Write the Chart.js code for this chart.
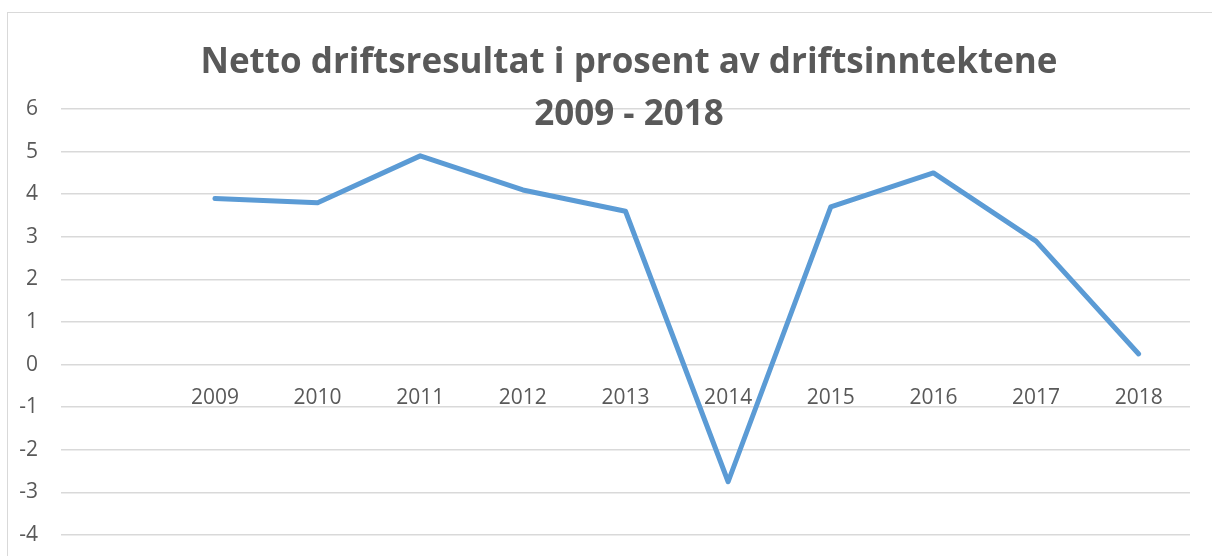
<!DOCTYPE html>
<html>
<head>
<meta charset="utf-8">
<script src="https://cdn.jsdelivr.net/npm/chart.js@4.4.1/dist/chart.umd.min.js"></script>
<style>
  body { margin: 0; background: #fff; }
  #wrap { position: relative; width: 1212px; height: 556px; overflow: hidden; }
</style>
</head>
<body>
<div id="wrap"><canvas id="myChart" width="1212" height="556"></canvas></div>
<script>
  const titleLines = ["Netto driftsresultat i prosent av driftsinntektene", "2009 - 2018"]
  const years = ["2009", "2010", "2011", "2012", "2013", "2014", "2015", "2016", "2017", "2018"]
  const values = [3.9, 3.8, 4.9, 4.1, 3.6, -2.75, 3.7, 4.5, 2.9, 0.25]
  const yTicks = [6, 5, 4, 3, 2, 1, 0, -1, -2, -3, -4]

  // Excel leaves one empty category before 2009
  const labels = [""].concat(years)
  const data = [null].concat(values)

  const textColor = "#595959"
  const gridColor = "#d9d9d9"
  const font = "'Open Sans', 'Liberation Sans', sans-serif"

  const frameAndTitle = {
    id: "frameAndTitle",
    beforeDraw(chart) {
      const ctx = chart.ctx
      ctx.save()
      ctx.strokeStyle = gridColor
      ctx.lineWidth = 1
      ctx.strokeRect(7.5, 12.5, 1230, 600)
      ctx.restore()
    },
    afterDraw(chart) {
      const ctx = chart.ctx
      ctx.save()
      ctx.fillStyle = textColor
      ctx.font = "bold 35px " + font
      ctx.textAlign = "center"
      ctx.textBaseline = "alphabetic"
      ctx.fillText(titleLines[0], 629, 73)
      ctx.fillText(titleLines[1], 629, 125)
      ctx.restore()
    }
  }

  function drawChart() {
    const ctx = document.getElementById("myChart")
    new Chart(ctx, {
      type: "line",
      data: {
        labels: labels,
        datasets: [
          {
            label: titleLines[0],
            data: data,
            borderColor: "#5b9bd5",
            backgroundColor: "#5b9bd5",
            borderWidth: 5,
            borderCapStyle: "round",
            borderJoinStyle: "round",
            pointRadius: 0,
            tension: 0,
          },
        ],
      },
      options: {
        responsive: false,
        animation: false,
        layout: { padding: { left: 0, right: 22, top: 109, bottom: 21 } },
        plugins: {
          legend: { display: false },
          title: { display: false },
          tooltip: { enabled: false },
        },
        scales: {
          x: {
            type: "category",
            position: { y: 0 },
            offset: true,
            afterFit: function (scale) { scale.height = 0 },
            grid: { display: false },
            border: { display: false },
            ticks: {
              color: textColor,
              font: { family: font, size: 21 },
              padding: 13,
              maxRotation: 0,
              autoSkip: false,
            },
          },
          y: {
            min: yTicks[yTicks.length - 1],
            max: yTicks[0],
            afterFit: function (scale) {
              scale.width = 61
              scale.paddingTop = 13
              scale.paddingBottom = 13
            },
            afterBuildTicks: function (scale) {
              scale.ticks = yTicks.map(function (v) { return { value: v } })
            },
            grid: { color: gridColor, lineWidth: 1.5, drawTicks: false },
            border: { display: false },
            ticks: {
              color: textColor,
              font: { family: font, size: 21 },
              padding: 23,
            },
          },
        },
      },
      plugins: [frameAndTitle],
    })
  }

  document.addEventListener("DOMContentLoaded", drawChart)
</script>
</body>
</html>
